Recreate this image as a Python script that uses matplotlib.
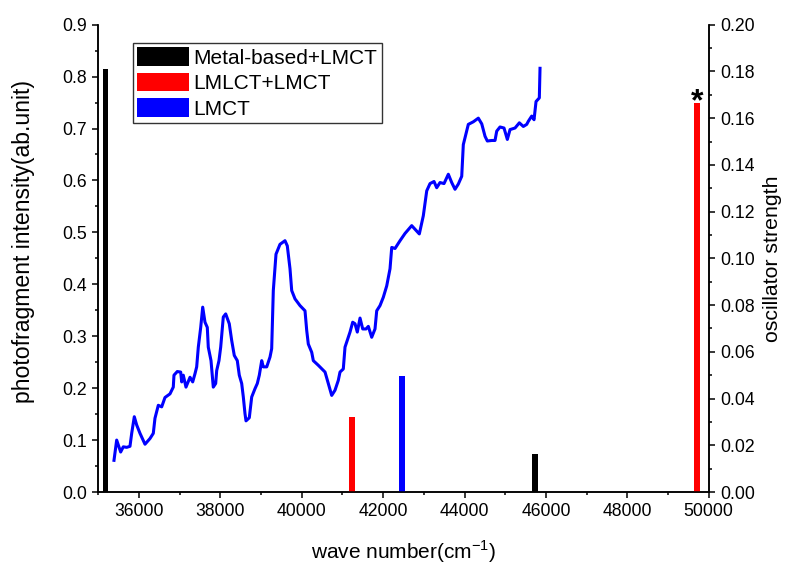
import matplotlib
matplotlib.use("Agg")
import matplotlib.pyplot as plt
from matplotlib.patches import Patch
from matplotlib.ticker import MultipleLocator, FormatStrFormatter

plt.rcParams['font.family'] = ['Liberation Sans', 'DejaVu Sans']

# photofragment spectrum (wave number in cm-1, intensity in ab.unit)
wave = [35386, 35452, 35550, 35614, 35698, 35779, 35821, 35885, 35944, 36025,
        36148, 36271, 36352, 36393, 36475, 36558, 36639, 36762, 36843, 36860,
        36941, 37025, 37050, 37089, 37155, 37254, 37320, 37377, 37418, 37458,
        37517, 37566, 37622, 37679, 37703, 37770, 37826, 37885, 37910, 37966,
        38008, 38072, 38131, 38219, 38278, 38342, 38416, 38465, 38524, 38564,
        38605, 38630, 38711, 38770, 38851, 38908, 38957, 39016, 39055, 39139,
        39220, 39261, 39301, 39367, 39465, 39588, 39645, 39711, 39753, 39834,
        39957, 40080, 40122, 40161, 40245, 40284, 40407, 40572, 40653, 40736,
        40817, 40898, 40940, 41021, 41063, 41144, 41186, 41252, 41309, 41365,
        41432, 41498, 41579, 41636, 41719, 41800, 41842, 41923, 42004, 42088,
        42169, 42211, 42292, 42415, 42538, 42702, 42783, 42889, 42987, 43071,
        43152, 43250, 43316, 43398, 43496, 43602, 43685, 43766, 43847, 43931,
        43970, 44093, 44216, 44339, 44423, 44504, 44560, 44668, 44749, 44791,
        44872, 44970, 45052, 45118, 45241, 45347, 45445, 45528, 45568, 45651,
        45708, 45757, 45838, 45855]
intensity = [0.061, 0.100, 0.077, 0.087, 0.086, 0.088, 0.113, 0.145, 0.129, 0.113,
             0.092, 0.103, 0.113, 0.142, 0.167, 0.164, 0.182, 0.189, 0.202, 0.225,
             0.232, 0.231, 0.212, 0.225, 0.202, 0.221, 0.212, 0.228, 0.241, 0.279,
             0.317, 0.356, 0.327, 0.317, 0.279, 0.253, 0.202, 0.209, 0.234, 0.253,
             0.279, 0.337, 0.343, 0.324, 0.292, 0.263, 0.253, 0.225, 0.209, 0.183,
             0.151, 0.137, 0.143, 0.183, 0.199, 0.209, 0.225, 0.253, 0.241, 0.241,
             0.260, 0.276, 0.388, 0.458, 0.477, 0.484, 0.474, 0.430, 0.388, 0.372,
             0.359, 0.349, 0.311, 0.285, 0.269, 0.253, 0.244, 0.231, 0.209, 0.186,
             0.196, 0.215, 0.231, 0.237, 0.279, 0.298, 0.308, 0.327, 0.324, 0.308,
             0.335, 0.314, 0.314, 0.319, 0.298, 0.314, 0.349, 0.359, 0.375, 0.397,
             0.430, 0.471, 0.469, 0.484, 0.498, 0.513, 0.506, 0.497, 0.532, 0.580,
             0.594, 0.598, 0.586, 0.596, 0.594, 0.612, 0.596, 0.583, 0.593, 0.608,
             0.669, 0.708, 0.713, 0.720, 0.709, 0.685, 0.676, 0.677, 0.677, 0.695,
             0.703, 0.701, 0.679, 0.698, 0.701, 0.711, 0.704, 0.708, 0.714, 0.724,
             0.717, 0.752, 0.759, 0.816]

# calculated transitions
trans_pos = [35180, 41230, 42460, 45730, 49720]
trans_f = [0.181, 0.032, 0.0496, 0.0161, 0.1664]
trans_type = ['Metal-based+LMCT', 'LMLCT+LMCT', 'LMCT', 'Metal-based+LMCT', 'LMLCT+LMCT']
type_names = ['Metal-based+LMCT', 'LMLCT+LMCT', 'LMCT']
type_colors = ['#000000', '#ff0000', '#0000ff']

fig = plt.figure(figsize=(7.85, 5.65), dpi=100)
ax = fig.add_axes([0.1252, 0.1292, 0.7776, 0.8271])
ax2 = ax.twinx()

ax.plot(wave, intensity, color='#0000ff', lw=2.2, zorder=3)

cols = [type_colors[type_names.index(t)] for t in trans_type]
ax2.bar(trans_pos, trans_f, width=140, color=cols, edgecolor='none')
ax2.text(trans_pos[-1], 0.167, '*', ha='center', va='center', fontsize=23,
         fontweight='bold')

ax.set_xlim(35000, 50000)
ax.set_ylim(0, 0.9)
ax2.set_ylim(0, 0.2)

ax.xaxis.set_major_locator(MultipleLocator(2000))
ax.xaxis.set_minor_locator(MultipleLocator(1000))
ax.yaxis.set_major_locator(MultipleLocator(0.1))
ax.yaxis.set_minor_locator(MultipleLocator(0.05))
ax.yaxis.set_major_formatter(FormatStrFormatter('%.1f'))
ax2.yaxis.set_major_locator(MultipleLocator(0.02))
ax2.yaxis.set_minor_locator(MultipleLocator(0.01))
ax2.yaxis.set_major_formatter(FormatStrFormatter('%.2f'))

for a in (ax, ax2):
    a.spines['top'].set_visible(False)
    for s in a.spines.values():
        s.set_linewidth(1.1)
    a.tick_params(which='major', direction='out', length=4.5, width=1.1,
                  labelsize=12.7)
    a.tick_params(which='minor', direction='out', length=2.5, width=1.1)
ax.tick_params(axis='y', right=False, which='both')

ax.set_xlabel('wave number(cm$^{\\mathregular{-1}}$)', fontsize=15, labelpad=13)
ax.set_ylabel('photofragment intensity(ab.unit)', fontsize=16.6)
ax.yaxis.set_label_coords(-0.104, 0.535)
ax2.set_ylabel('oscillator strength', fontsize=15.3, labelpad=6)

handles = [Patch(facecolor=c, edgecolor='none') for c in type_colors]
leg = ax2.legend(handles, type_names, loc='upper left',
                 bbox_to_anchor=(0.057, 0.961), borderaxespad=0,
                 fontsize=15, handlelength=2.5, handleheight=1.0,
                 handletextpad=0.2, labelspacing=0.25, borderpad=0.2,
                 fancybox=False, framealpha=1, edgecolor='#333333')
leg.get_frame().set_linewidth(1.0)

fig.savefig('out.png', dpi=100)
